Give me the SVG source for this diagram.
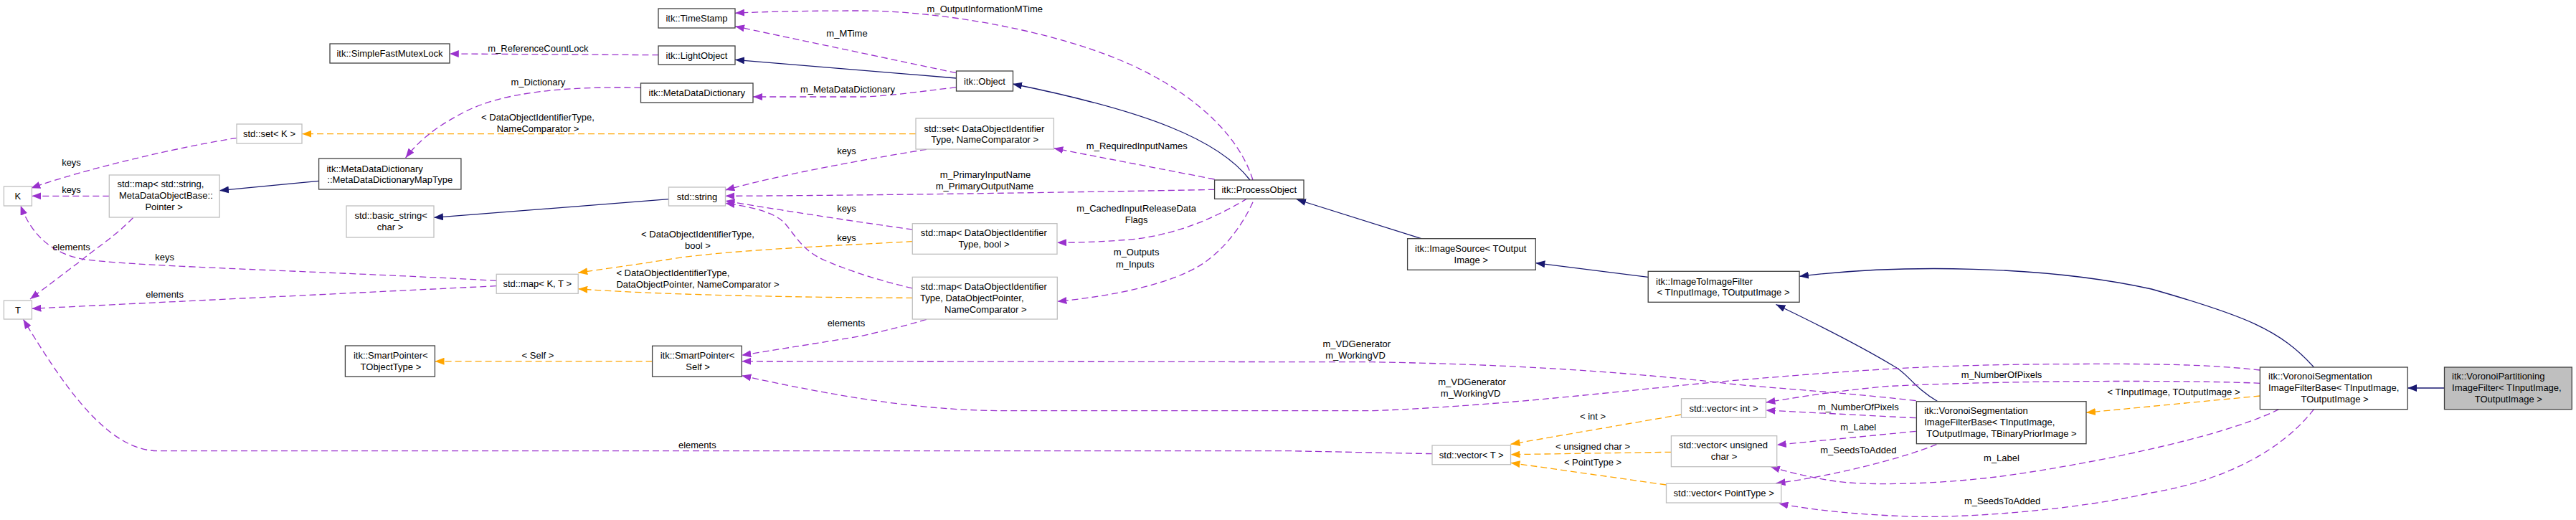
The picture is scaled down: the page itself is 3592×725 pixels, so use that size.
<svg xmlns="http://www.w3.org/2000/svg" width="3592" height="725" viewBox="0 0 3592 725">
<style>
text{font-family:"Liberation Sans",Arial,sans-serif;font-size:13px;fill:#000}
.m{text-anchor:middle}
.s{text-anchor:start}
.nd rect{fill:#fff;stroke:#404040;stroke-width:1.3}
.ng rect{fill:#fff;stroke:#bfbfbf;stroke-width:1.3}
.nf rect{fill:#bfbfbf;stroke:#404040;stroke-width:1.3}
.e{fill:none;stroke-width:1.3}
.inh{stroke:#191970;marker-end:url(#mn)}
.use{stroke:#9a32cd;stroke-dasharray:9,5;marker-end:url(#mp)}
.tpl{stroke:#ffa500;stroke-dasharray:9,5;marker-end:url(#mo)}
</style>
<defs>
<marker id="mn" viewBox="0 0 13 10" refX="13" refY="5" markerWidth="13" markerHeight="10" markerUnits="userSpaceOnUse" orient="auto"><path d="M0,0 L13,5 L0,10 z" fill="#191970"/></marker>
<marker id="mp" viewBox="0 0 13 10" refX="13" refY="5" markerWidth="13" markerHeight="10" markerUnits="userSpaceOnUse" orient="auto"><path d="M0,0 L13,5 L0,10 z" fill="#9a32cd"/></marker>
<marker id="mo" viewBox="0 0 13 10" refX="13" refY="5" markerWidth="13" markerHeight="10" markerUnits="userSpaceOnUse" orient="auto"><path d="M0,0 L13,5 L0,10 z" fill="#ffa500"/></marker>
</defs>
<rect x="0" y="0" width="3592" height="725" fill="#fff"/>
<g id="edges">
<path class="e inh" d="M1333.5,109 L1025,83.3"/>
<path class="e inh" d="M1743,251 C1700,195 1600,155 1412,117"/>
<path class="e inh" d="M444.6,252.3 L306,265.7"/>
<path class="e inh" d="M932.5,277.7 L605,303.3"/>
<path class="e inh" d="M1981.8,332.7 L1808,278"/>
<path class="e inh" d="M2298,386.3 L2141.3,366.7"/>
<path class="e inh" d="M2702,559.7 C2668,540 2660,520 2640,510 C2590,480 2540,455 2476.5,424.5"/>
<path class="e inh" d="M3226.5,512 C3180,460 3130,440 3000,403 C2850,370 2650,368 2509,385.3"/>
<path class="e inh" d="M3408.5,541 L3357.2,541"/>
<path class="e tpl" d="M1277,186.7 L421.3,186.7"/>
<path class="e tpl" d="M1272.3,336.7 C1150,343 1000,350 930,362 C880,370 840,375 806.3,380.3"/>
<path class="e tpl" d="M1272.3,415.3 C1100,415 900,410 806.3,402.7"/>
<path class="e tpl" d="M909.6,503.7 L606.5,503.7"/>
<path class="e tpl" d="M2344.5,578 L2106.5,619.3"/>
<path class="e tpl" d="M2330.4,630.3 L2106.5,633.7"/>
<path class="e tpl" d="M2323.5,676 L2106.5,645.3"/>
<path class="e tpl" d="M3151.4,552 L2909,575.3"/>
<path class="e use" d="M918.4,76.7 L626.8,75"/>
<path class="e use" d="M1333.5,101.7 L1025,36.7"/>
<path class="e use" d="M1747,251 C1725,180 1650,120 1560,83 C1450,38 1300,15 1200,15 C1130,15 1070,16 1025,18.3"/>
<path class="e use" d="M1333.5,121.7 C1280,128 1230,135 1200,135 L1050,135"/>
<path class="e use" d="M893.5,122.3 C780,120 700,130 650,155 C610,175 585,195 565.6,220"/>
<path class="e use" d="M330.2,192.3 C250,205 120,235 43.2,262.3"/>
<path class="e use" d="M152.3,273.3 L44.4,273.3"/>
<path class="e use" d="M692.2,391.3 C450,378 200,372 120,362 C75,355 45,330 28.7,286.7"/>
<path class="e use" d="M185.6,303.5 C160,330 135,345 114.8,362 L42,417"/>
<path class="e use" d="M692.2,398.7 L44.4,430.3"/>
<path class="e use" d="M1997,632.7 L1800,628.7 L220,628.7 C150,628 90,540 32.5,445.3"/>
<path class="e use" d="M1291.8,208.3 C1250,215 1100,240 1011.4,265"/>
<path class="e use" d="M1693.6,264.3 C1500,268 1200,272.7 1011.4,273.3"/>
<path class="e use" d="M1272.3,320 C1200,310 1100,295 1011.4,280"/>
<path class="e use" d="M1272.3,402 C1230,392 1190,380 1150,363 C1120,350 1110,330 1095,312 C1080,295 1045,288 1011.4,283.3"/>
<path class="e use" d="M1693.6,250 L1469.4,206.7"/>
<path class="e use" d="M1739.5,276.7 C1700,300 1650,325 1582.7,333.3 C1530,338 1500,338 1474,338.3"/>
<path class="e use" d="M1747,281.7 C1730,320 1700,355 1670,372 C1630,395 1560,412 1474.4,420.3"/>
<path class="e use" d="M1291.8,445.3 C1260,455 1230,462 1200,468.7 L1034.3,495.3"/>
<path class="e use" d="M2671.7,558.7 C2550,545 2450,540 2400,533.7 C2250,517 2100,508 1914.8,504.7 L1034.3,503.7"/>
<path class="e use" d="M3151.4,516 C3080,508 3000,507 2900,507.5 C2700,508 2600,515 2400,532 C2250,546 2100,565 1915,572.7 L1400,572.7 C1300,572 1200,560 1034.3,523.7"/>
<path class="e use" d="M2671.7,582.7 L2462.4,572"/>
<path class="e use" d="M3151.4,534.3 C3050,530 2800,530 2629.6,538.7 C2560,545 2500,555 2462.4,561"/>
<path class="e use" d="M2671.7,601.3 L2477.7,620.3"/>
<path class="e use" d="M3177.5,570.7 C3100,610 2900,650 2783,665 C2700,675 2600,678 2553,670 C2520,665 2490,657 2468.9,650.7"/>
<path class="e use" d="M2700.4,619.7 C2650,640 2550,665 2476.5,673.7"/>
<path class="e use" d="M3226.5,570.7 C3180,630 3100,670 3000,687 C2900,710 2750,722 2668,720.3 C2600,718 2530,712 2480.4,702"/>
<text class="m" x="750.4" y="71.8">m_ReferenceCountLock</text>
<text class="m" x="1181" y="51.2">m_MTime</text>
<text class="m" x="1373.3" y="17.2">m_OutputInformationMTime</text>
<text class="m" x="1182" y="128.8">m_MetaDataDictionary</text>
<text class="m" x="750.4" y="119.2">m_Dictionary</text>
<text class="m" x="750" y="167.8">&lt; DataObjectIdentifierType,</text>
<text class="m" x="750" y="183.8">NameComparator &gt;</text>
<text class="m" x="99.5" y="231.2">keys</text>
<text class="m" x="99.5" y="268.8">keys</text>
<text class="m" x="99.5" y="348.8">elements</text>
<text class="m" x="229.6" y="362.8">keys</text>
<text class="m" x="229.6" y="414.8">elements</text>
<text class="m" x="1180.5" y="215.2">keys</text>
<text class="m" x="1180.5" y="295.2">keys</text>
<text class="m" x="1180.5" y="336.2">keys</text>
<text class="m" x="1374" y="248.2">m_PrimaryInputName</text>
<text class="m" x="1373" y="264.2">m_PrimaryOutputName</text>
<text class="m" x="973" y="331.2">&lt; DataObjectIdentifierType,</text>
<text class="m" x="973" y="347.2">bool &gt;</text>
<text class="m" x="1585.3" y="207.8">m_RequiredInputNames</text>
<text class="m" x="1584.6" y="295.2">m_CachedInputReleaseData</text>
<text class="m" x="1584.6" y="311.2">Flags</text>
<text class="m" x="1584.6" y="356.2">m_Outputs</text>
<text class="m" x="1582.7" y="372.5">m_Inputs</text>
<text class="s" x="859.4" y="384.8">&lt; DataObjectIdentifierType,</text>
<text class="s" x="859.4" y="401.2">DataObjectPointer, NameComparator &gt;</text>
<text class="m" x="1180" y="454.8">elements</text>
<text class="m" x="750" y="499.8">&lt; Self &gt;</text>
<text class="m" x="972.3" y="624.8">elements</text>
<text class="m" x="1891.8" y="483.8">m_VDGenerator</text>
<text class="m" x="1890" y="499.8">m_WorkingVD</text>
<text class="m" x="2052.5" y="536.8">m_VDGenerator</text>
<text class="m" x="2050.6" y="553.2">m_WorkingVD</text>
<text class="m" x="2221" y="584.8">&lt; int &gt;</text>
<text class="m" x="2221" y="626.8">&lt; unsigned char &gt;</text>
<text class="m" x="2221" y="649.2">&lt; PointType &gt;</text>
<text class="m" x="2591.3" y="572.2">m_NumberOfPixels</text>
<text class="m" x="2591.3" y="599.8">m_Label</text>
<text class="m" x="2591.3" y="632.2">m_SeedsToAdded</text>
<text class="m" x="2791" y="527.2">m_NumberOfPixels</text>
<text class="m" x="2791" y="642.8">m_Label</text>
<text class="m" x="2792" y="703.2">m_SeedsToAdded</text>
<text class="m" x="3031" y="550.5">&lt; TInputImage, TOutputImage &gt;</text>
</g>
<g id="n_sfml" class="nd"><rect x="460" y="61" width="167" height="27"/><text class="m" x="543.5" y="79">itk::SimpleFastMutexLock</text></g>
<g id="n_timestamp" class="nd"><rect x="918" y="12" width="107" height="27"/><text class="m" x="971.5" y="30">itk::TimeStamp</text></g>
<g id="n_lightobject" class="nd"><rect x="918" y="64" width="107" height="26"/><text class="m" x="971.5" y="81.5">itk::LightObject</text></g>
<g id="n_mdd" class="nd"><rect x="893.5" y="116" width="156.5" height="27"/><text class="m" x="971.75" y="134">itk::MetaDataDictionary</text></g>
<g id="n_object" class="nd"><rect x="1333.5" y="99" width="79" height="28"/><text class="m" x="1373" y="117.5">itk::Object</text></g>
<g id="n_setk" class="ng"><rect x="330" y="173" width="91" height="27"/><text class="m" x="375.5" y="191">std::set&lt; K &gt;</text></g>
<g id="n_maptype" class="nd"><rect x="444.6" y="221" width="198.3" height="43"/><text class="s" x="455.4" y="239.5">itk::MetaDataDictionary</text><text class="m" x="543.75" y="254.5">::MetaDataDictionaryMapType</text></g>
<g id="n_basicstring" class="ng"><rect x="483" y="287" width="122" height="44"/><text class="s" x="494.4" y="304.5">std::basic_string&lt;</text><text class="m" x="544" y="320.5">char &gt;</text></g>
<g id="n_k" class="ng"><rect x="5.4" y="260" width="39" height="27"/><text class="m" x="24.9" y="278">K</text></g>
<g id="n_mapstring" class="ng"><rect x="152.3" y="244" width="153.8" height="59"/><text class="s" x="163.4" y="261.2">std::map&lt; std::string,</text><text class="s" x="166" y="277.2">MetaDataObjectBase::</text><text class="m" x="228.6" y="292.8">Pointer &gt;</text></g>
<g id="n_t" class="ng"><rect x="5.4" y="419" width="39" height="26"/><text class="m" x="24.9" y="436.5">T</text></g>
<g id="n_sptobj" class="nd"><rect x="481.4" y="482" width="125" height="43"/><text class="s" x="492.9" y="499.8">itk::SmartPointer&lt;</text><text class="m" x="544.9" y="515.8">TObjectType &gt;</text></g>
<g id="n_mapkt" class="ng"><rect x="692.2" y="382.3" width="114" height="27"/><text class="m" x="749.2" y="400.3">std::map&lt; K, T &gt;</text></g>
<g id="n_spself" class="nd"><rect x="909.6" y="482.3" width="124.7" height="42.7"/><text class="s" x="920.7" y="499.8">itk::SmartPointer&lt;</text><text class="m" x="973.1" y="515.8">Self &gt;</text></g>
<g id="n_string" class="ng"><rect x="932.5" y="261" width="79" height="26"/><text class="m" x="972" y="278.5">std::string</text></g>
<g id="n_setdoi" class="ng"><rect x="1277" y="165" width="192.4" height="43"/><text class="s" x="1288.4" y="183.5">std::set&lt; DataObjectIdentifier</text><text class="m" x="1373.2" y="198.8">Type, NameComparator &gt;</text></g>
<g id="n_mapbool" class="ng"><rect x="1272.3" y="311.7" width="201.7" height="42.6"/><text class="s" x="1283.8" y="328.8">std::map&lt; DataObjectIdentifier</text><text class="m" x="1372" y="344.8">Type, bool &gt;</text></g>
<g id="n_mapptr" class="ng"><rect x="1272.3" y="386.3" width="202" height="58.7"/><text class="s" x="1283.8" y="404.2">std::map&lt; DataObjectIdentifier</text><text class="s" x="1283" y="419.8">Type, DataObjectPointer,</text><text class="m" x="1374.3" y="435.8">NameComparator &gt;</text></g>
<g id="n_processobject" class="nd"><rect x="1693.6" y="251" width="124.4" height="26.3"/><text class="m" x="1755.8" y="268.5">itk::ProcessObject</text></g>
<g id="n_imagesource" class="nd"><rect x="1962.6" y="332.7" width="178.7" height="43.6"/><text class="s" x="1973" y="351.2">itk::ImageSource&lt; TOutput</text><text class="m" x="2051.2" y="367.2">Image &gt;</text></g>
<g id="n_itif" class="nd"><rect x="2298.2" y="378.3" width="210.9" height="43"/><text class="s" x="2309" y="396.5">itk::ImageToImageFilter</text><text class="m" x="2403" y="412.2">&lt; TInputImage, TOutputImage &gt;</text></g>
<g id="n_vint" class="ng"><rect x="2344.5" y="555.7" width="117.9" height="26.6"/><text class="m" x="2403.5" y="573.5">std::vector&lt; int &gt;</text></g>
<g id="n_vuchar" class="ng"><rect x="2330.4" y="607.7" width="147.3" height="43"/><text class="s" x="2341" y="624.8">std::vector&lt; unsigned</text><text class="m" x="2404" y="640.8">char &gt;</text></g>
<g id="n_vpoint" class="ng"><rect x="2323.5" y="674.3" width="160.3" height="26.7"/><text class="m" x="2403.7" y="692.2">std::vector&lt; PointType &gt;</text></g>
<g id="n_vt" class="ng"><rect x="1997" y="621" width="109.5" height="26.7"/><text class="m" x="2051.7" y="638.8">std::vector&lt; T &gt;</text></g>
<g id="n_vs3" class="nd"><rect x="2672.4" y="559.7" width="236.6" height="59"/><text class="s" x="2683.2" y="577.2">itk::VoronoiSegmentation</text><text class="s" x="2683.2" y="593.2">ImageFilterBase&lt; TInputImage,</text><text class="m" x="2791" y="609.2">TOutputImage, TBinaryPriorImage &gt;</text></g>
<g id="n_vs2" class="nd"><rect x="3151.4" y="512" width="205.8" height="58.7"/><text class="s" x="3163.1" y="529.2">itk::VoronoiSegmentation</text><text class="s" x="3163.1" y="545.2">ImageFilterBase&lt; TInputImage,</text><text class="m" x="3255.6" y="561.2">TOutputImage &gt;</text></g>
<g id="n_vp" class="nf"><rect x="3408.5" y="512" width="177.8" height="58.7"/><text class="s" x="3419.1" y="529.2">itk::VoronoiPartitioning</text><text class="s" x="3419.1" y="545.2">ImageFilter&lt; TInputImage,</text><text class="m" x="3497.8" y="561.2">TOutputImage &gt;</text></g>
</svg>
